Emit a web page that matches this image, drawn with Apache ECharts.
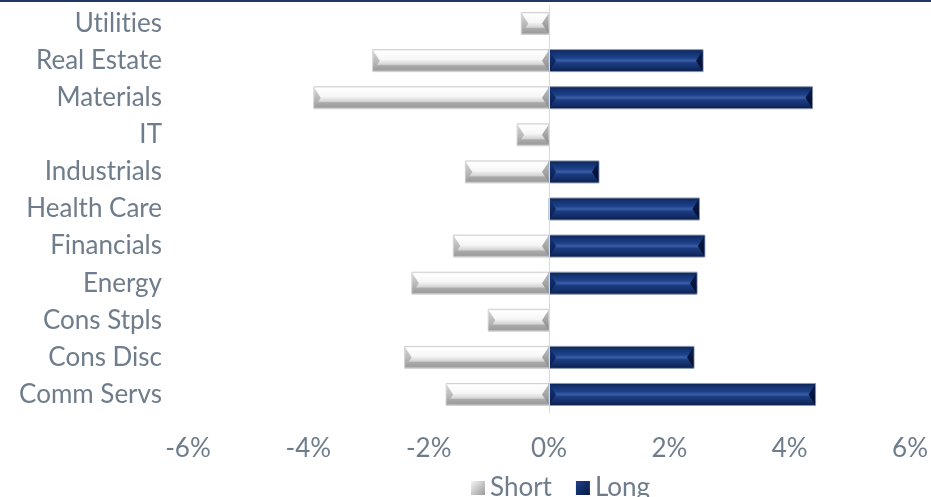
<!DOCTYPE html>
<html>
<head>
<meta charset="utf-8">
<script src="https://cdn.jsdelivr.net/npm/echarts@6/dist/echarts.min.js"></script>
<style>
html,body{margin:0;padding:0;background:#fff;}
#c{width:931px;height:497px;}
</style>
</head>
<body>
<div id="c"></div>
<script>
const categories = ['Comm Servs','Cons Disc','Cons Stpls','Energy','Financials','Health Care','Industrials','IT','Materials','Real Estate','Utilities'];
const shortValues = [-1.71, -2.40, -1.01, -2.28, -1.59, null, -1.39, -0.53, -3.91, -2.93, -0.46];
const longValues  = [4.43, 2.41, null, 2.46, 2.59, 2.50, 0.83, null, 4.38, 2.56, null];
const xTicks = { min: -6, max: 6, interval: 2 };

// avoid the "ti" ligature of Lato in canvas text
(function(){
  const P = CanvasRenderingContext2D.prototype;
  const of = P.fillText;
  P.fillText = function(){ try{ this.textRendering = 'optimizeSpeed'; }catch(e){} return of.apply(this, arguments); };
})();

const FONT = 'Lato';
const TXT = '#6e7c8c';
const FS = 26;

const styles = {
  Short: {
    body: [
      {offset:0, color:'#e4e4e4'},
      {offset:0.1, color:'#ffffff'},
      {offset:0.45, color:'#f6f6f6'},
      {offset:0.66, color:'#d4d4d4'},
      {offset:0.72, color:'#a9a9a9'},
      {offset:0.9, color:'#9d9d9d'},
      {offset:1, color:'#d8d8d8'}
    ],
    endL: ['#d6d6d6', '#a0a0a0'],
    endR: ['#bdbdbd', '#8a8a8a'],
    stroke: '#d0d0d0',
    legend: '#c8c8c8'
  },
  Long: {
    body: [
      {offset:0, color:'#0b1f52'},
      {offset:0.15, color:'#13326f'},
      {offset:0.38, color:'#1d418a'},
      {offset:0.5, color:'#3b5fa6'},
      {offset:0.6, color:'#1c3c82'},
      {offset:0.85, color:'#112b62'},
      {offset:1, color:'#081a46'}
    ],
    endL: ['#14357a', '#0a1d4e'],
    endR: ['#0a1c4a', '#040f30'],
    stroke: '#8a97ab',
    legend: '#14306c'
  }
};

function makeRender(name){
  const st = styles[name];
  return function(params, api){
    const v = api.value(0);
    if (v == null || isNaN(v)) return null;
    const c = api.value(1);
    const a = api.coord([0, c]);
    const b = api.coord([v, c]);
    const h = 22;
    const x0 = Math.min(a[0], b[0]), x1 = Math.max(a[0], b[0]);
    const y0 = a[1] - h/2, y1 = y0 + h, ym = a[1];
    const w = x1 - x0;
    const d = Math.min(7, w/2);
    return {
      type:'group',
      children:[
        {type:'rect', shape:{x:x0, y:y0, width:w, height:h},
         style:{fill:new echarts.graphic.LinearGradient(0,0,0,1,st.body), stroke:st.stroke, lineWidth:1}},
        {type:'polygon', shape:{points:[[x0+0.5,y0+1],[x0+d,ym],[x0+0.5,y1-1]]},
         style:{fill:new echarts.graphic.LinearGradient(0,0,0,1,[{offset:0,color:st.endL[0]},{offset:1,color:st.endL[1]}])}},
        {type:'polygon', shape:{points:[[x1-0.5,y0+1],[x1-d,ym],[x1-0.5,y1-1]]},
         style:{fill:new echarts.graphic.LinearGradient(0,0,0,1,[{offset:0,color:st.endR[0]},{offset:1,color:st.endR[1]}])}}
      ]
    };
  };
}

const chart = echarts.init(document.getElementById('c'), null, {renderer:'canvas'});
chart.setOption({
  animation:false,
  backgroundColor:'#ffffff',
  graphic:[{type:'rect', left:0, top:0, shape:{width:931, height:2}, style:{fill:'#203864'}}],
  grid:{left:188, right:19, top:5, bottom:84, containLabel:false},
  legend:{
    data:[
      {name:'Short', icon:'rect', itemStyle:{color:new echarts.graphic.LinearGradient(0,0,1,1,[{offset:0,color:'#f4f4f4'},{offset:1,color:'#9a9a9a'}])}},
      {name:'Long', icon:'rect', itemStyle:{color:new echarts.graphic.LinearGradient(0,0,1,1,[{offset:0,color:'#1d418a'},{offset:1,color:'#071a44'}])}}
    ],
    left:466, top:470,
    itemWidth:14, itemHeight:14, itemGap:24,
    textStyle:{fontFamily:FONT, fontSize:FS, color:TXT}
  },
  xAxis:{
    type:'value', min:xTicks.min, max:xTicks.max, interval:xTicks.interval,
    axisLine:{show:false}, axisTick:{show:false}, splitLine:{show:false},
    axisLabel:{formatter:'{value}%', fontFamily:FONT, fontSize:FS, color:TXT, margin:23}
  },
  yAxis:{
    type:'category', data:categories,
    axisLine:{show:false, onZero:false}, axisTick:{show:false},
    axisLabel:{fontFamily:FONT, fontSize:FS, color:TXT, margin:26}
  },
  series:[
    {
      name:'Short', type:'custom', renderItem:makeRender('Short'),
      encode:{x:0, y:1},
      data:shortValues.map((v,i)=>[v,i]),
      itemStyle:{color:styles.Short.legend},
      markLine:{silent:true, symbol:'none', label:{show:false},
        lineStyle:{color:'#d9d9d9', width:1, type:'solid'}, data:[{xAxis:0}]}
    },
    {
      name:'Long', type:'custom', renderItem:makeRender('Long'),
      encode:{x:0, y:1},
      data:longValues.map((v,i)=>[v,i]),
      itemStyle:{color:styles.Long.legend}
    }
  ]
});
</script>
</body>
</html>
